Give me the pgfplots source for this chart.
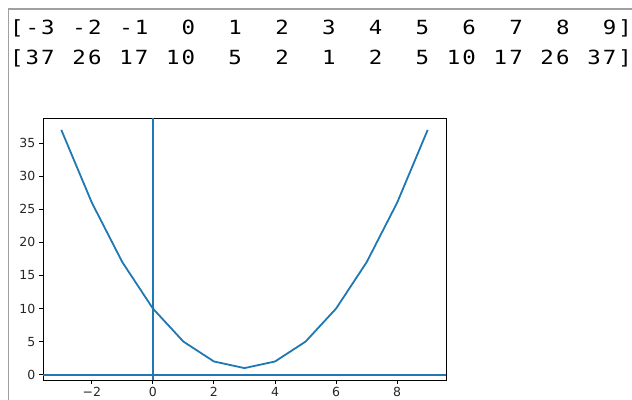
\documentclass[border=0pt]{standalone}
\usepackage{fontspec}
\usepackage{pgfplots}
\pgfplotsset{compat=1.18}
\setmainfont{DejaVu Sans}
\newfontfamily\codefont[FakeStretch=1.15]{DejaVu Sans Mono}
\definecolor{mplblue}{HTML}{1F77B4}
\definecolor{cellrule}{HTML}{A0A0A0}

% one printed array row, one character per fixed-pitch cell
\newcommand\arrayrow[2]{%
  \foreach \c [count=\i from 0] in {#2} {%
    \node[anchor=base, inner sep=0pt,
          font=\codefont\fontsize{19.5bp}{22bp}\selectfont]
      at ({(16.8+15.6*\i)*1bp}, #1) {\c};
  }%
}

\begin{document}
\begin{tikzpicture}
\useasboundingbox (0,0) rectangle (632bp,-400bp);
\clip (0,0) rectangle (632bp,-400bp);

% output cell border
\draw[cellrule, line width=1.5bp] (8.5bp,-400bp) -- (8.5bp,-9bp) -- (632bp,-9bp);

% printed x and y arrays
\arrayrow{-34bp}{[,-,3,,-,2,,-,1,,,0,,,1,,,2,,,3,,,4,,,5,,,6,,,7,,,8,,,9,]}
\arrayrow{-64bp}{[,3,7,,2,6,,1,7,,1,0,,,5,,,2,,,1,,,2,,,5,,1,0,,1,7,,2,6,,3,7,]}

\begin{axis}[
  at={(43bp,-118bp)}, anchor=north west,
  width=403bp, height=262bp, scale only axis,
  xmin=-3.6, xmax=9.6, ymin=-0.8, ymax=38.8,
  axis line style={line width=0.96bp, black},
  tick style={line width=0.96bp, black},
  major tick length=4.2bp,
  tick align=outside,
  tick pos=left,
  xtick={-2,0,2,4,6,8},
  xticklabels={−2,0,2,4,6,8},
  ytick={0,5,...,35},
  ticklabel style={font=\fontsize{12.5bp}{14bp}\selectfont, text=black!85},
  /pgf/number format/assume math mode=true,
  curve/.style={mplblue, line width=1.8bp, line join=round, no marks},
]
% y = (x-3)^2 + 1 sampled at the integers
\addplot[curve] coordinates {
  (-3,37) (-2,26) (-1,17) (0,10) (1,5) (2,2) (3,1)
  (4,2) (5,5) (6,10) (7,17) (8,26) (9,37)
};
% reference lines through the origin
\addplot[curve] coordinates {(-3.6,0) (9.6,0)};
\addplot[curve] coordinates {(0,-0.8) (0,38.8)};
\end{axis}
\end{tikzpicture}
\end{document}
